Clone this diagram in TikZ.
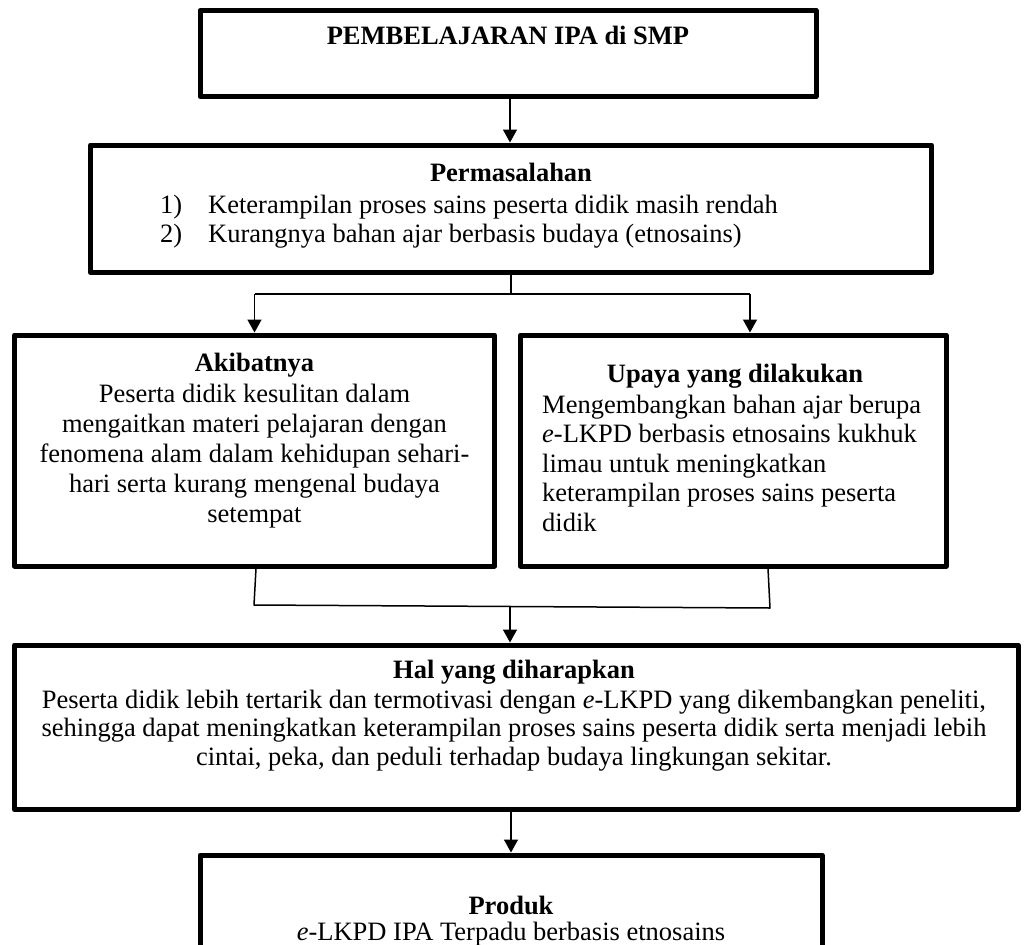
\documentclass[tikz,border=0pt]{standalone}
\usepackage{fontspec}
\setmainfont{Liberation Serif}
\usetikzlibrary{arrows.meta}
\begin{document}
\begin{tikzpicture}[x=1pt,y=-1pt,
  box/.style={draw, line width=5pt, line join=round, inner sep=0pt},
  conn/.style={line width=1.5pt},
  arr/.style={line width=1.5pt, -{Triangle[width=14pt,length=13pt]}},
  txt/.style={font=\fontsize{26.5}{30}\selectfont, inner sep=0pt, anchor=base},
]
\useasboundingbox (0,0) rectangle (1028,945);
\fill[white] (0,0) rectangle (1028,945);

% boxes
\node[box, minimum width=616pt, minimum height=86pt] (top) at (508,53.5) {};
\node[box, minimum width=841pt, minimum height=127.5pt] (perm) at (511,208.75) {};
\node[box, minimum width=480pt, minimum height=231pt] (akib) at (254.5,450.5) {};
\node[box, minimum width=425.5pt, minimum height=231pt] (upaya) at (733.25,450.5) {};
\node[box, minimum width=1003.5pt, minimum height=164.5pt] (hal) at (516.25,727.25) {};
\node[box, minimum width=622pt, minimum height=95pt] (produk) at (511,902.5) {};

% texts (base anchor of a multi-line node = baseline of its last line)
\node[txt] (ttop) at (508,44) {\bfseries PEMBELAJARAN IPA di SMP};
\node[txt] (tperm) at (511,181) {\bfseries Permasalahan};
\node[txt, anchor=base west, align=left, font=\fontsize{26.5}{29}\selectfont] (tpermlist) at (160,242)
  {\makebox[48pt][l]{1)}Keterampilan proses sains peserta didik masih rendah\\
   \makebox[48pt][l]{2)}Kurangnya bahan ajar berbasis budaya (etnosains)};
\node[txt] (takibh) at (254.5,371) {\bfseries Akibatnya};
\node[txt, align=center] (takib) at (254.5,522)
  {Peserta didik kesulitan dalam\\ mengaitkan materi pelajaran dengan\\
   fenomena alam dalam kehidupan sehari-\\ hari serta kurang mengenal budaya\\ setempat};
\node[txt] (tupayah) at (735,382) {\bfseries Upaya yang dilakukan};
\node[txt, anchor=base west, align=left, font=\fontsize{26.5}{29.5}\selectfont] (tupaya) at (542,531)
  {Mengembangkan bahan ajar berupa\\ \textit{e}-LKPD berbasis etnosains kukhuk\\
   limau untuk meningkatkan\\ keterampilan proses sains peserta\\ didik};
\node[txt] (thalh) at (514,678) {\bfseries Hal yang diharapkan};
\node[txt, align=center, font=\fontsize{26.5}{28.5}\selectfont] (thal) at (514,765)
  {Peserta didik lebih tertarik dan termotivasi dengan \textit{e}-LKPD yang dikembangkan peneliti,\\
   sehingga dapat meningkatkan keterampilan proses sains peserta didik serta menjadi lebih\\
   cintai, peka, dan peduli terhadap budaya lingkungan sekitar.};
\node[txt] (tprodh) at (511,914) {\bfseries Produk};
\node[txt] (tprod) at (511,940) {\textit{e}-LKPD IPA Terpadu berbasis etnosains};

% connectors
\coordinate (split) at (511,294);
\coordinate (splitL) at (254.5,294);
\coordinate (splitR) at (750,294);
\draw[arr] (top.south -| 510,0) -- (perm.north -| 510,0);
\draw[conn] (perm.south) -- (split);
\draw[conn] (splitL) -- (splitR);
\draw[arr] (splitL) -- (akib.north);
\draw[arr] (splitR) -- (splitR |- upaya.north);

\coordinate (bl1) at (256,568.5);
\coordinate (bl2) at (254,605);
\coordinate (br2) at (770,608);
\coordinate (br1) at (768,568.5);
\coordinate (bm) at (510,606.5);
\draw[conn, line join=round] (bl1) -- (bl2) -- (br2) -- (br1);
\draw[arr] (bm) -- (bm |- hal.north);
\draw[arr] (hal.south -| 511,0) -- (produk.north);
\end{tikzpicture}
\end{document}
